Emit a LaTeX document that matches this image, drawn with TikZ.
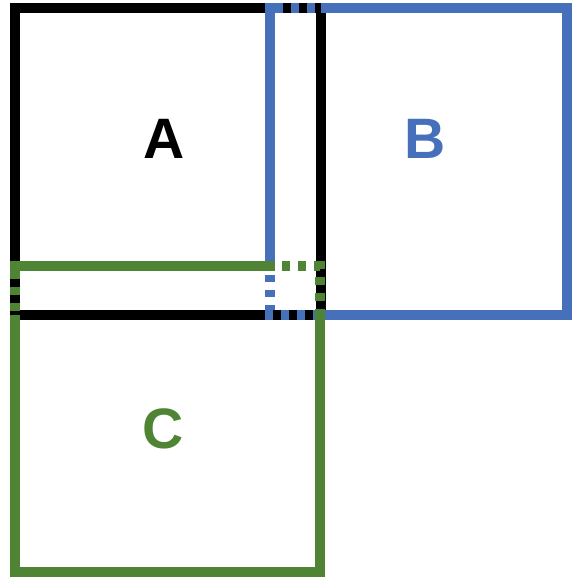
\documentclass[tikz,border=0pt]{standalone}
\usepackage{fontspec}
\setmainfont{Liberation Sans}
\definecolor{bblue}{HTML}{4770BA}
\definecolor{cgreen}{HTML}{4F8434}
\begin{document}
\begin{tikzpicture}[x=1pt,y=-1pt,
  edge/.style={line width=10pt,line join=miter},
  dashy/.style={line width=10pt,dash pattern=on 8pt off 8pt},
  lbl/.style={font=\fontsize{57}{57}\selectfont\bfseries,inner sep=0pt}]
\useasboundingbox[fill=white] (0,0) rectangle (574,579);
% A
\draw[edge,black] (15,8) rectangle (321,315);
% B solid parts
\draw[edge,bblue,line cap=rect] (270,262) -- (270,8);
\draw[edge,bblue] (321,8) -- (567,8) -- (567,315) -- (321,315);
% B dashed over A / dotted in triple region
\draw[dashy,bblue] (275,8) -- (321,8);
\draw[dashy,bblue] (265,315) -- (321,315);
\draw[dashy,bblue,dash pattern=on 7pt off 8pt,dash phase=-2pt] (270,273) -- (270,310);
% C solid parts
\draw[edge,cgreen,line cap=rect] (15,266) -- (270,266);
\draw[edge,cgreen] (320,315) -- (320,572) -- (15,572) -- (15,315);
% C dashed over A / dotted in triple region
\draw[dashy,cgreen] (15,271) -- (15,320);
\draw[dashy,cgreen] (320,261) -- (320,315);
\draw[dashy,cgreen] (282,266) -- (320,266);
% labels
\node[lbl,text=black] (la) at (164,139) {A};
\node[lbl,text=bblue] (lb) at (425,139) {B};
\node[lbl,text=cgreen] (lc) at (163,429) {C};
\end{tikzpicture}
\end{document}
